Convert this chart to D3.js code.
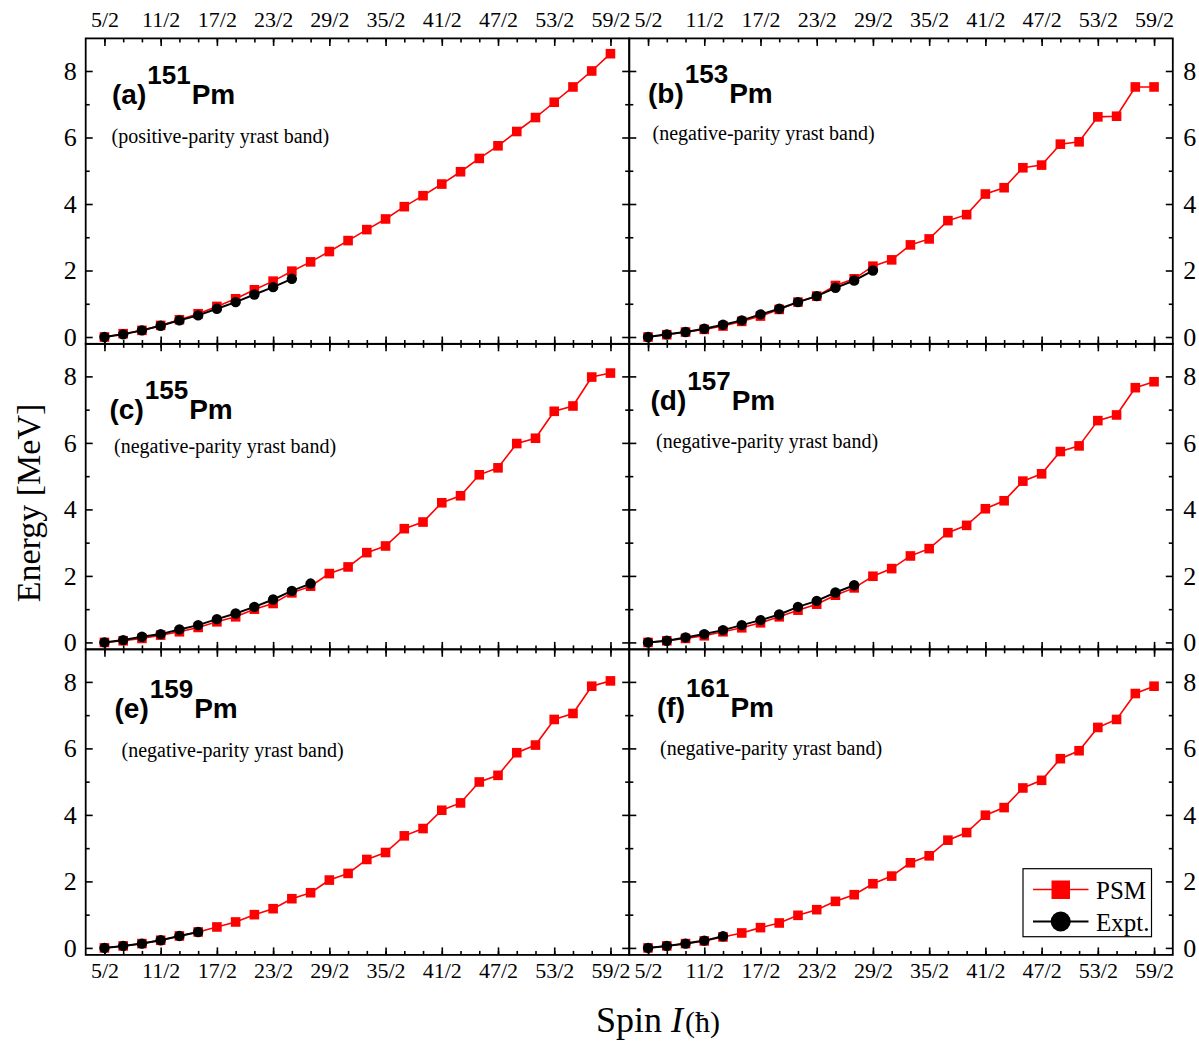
<!DOCTYPE html>
<html>
<head>
<meta charset="utf-8">
<script src="https://cdn.jsdelivr.net/npm/d3@7"></script>
<style>
  body { margin: 0; background: #fff; }
  text { font-family: "Liberation Serif", "Times New Roman", serif; }
</style>
</head>
<body>
<div id="chart"></div>
<script>
// spin values I = 5/2 ... 59/2
var spins = [2.5, 3.5, 4.5, 5.5, 6.5, 7.5, 8.5, 9.5, 10.5, 11.5, 12.5, 13.5, 14.5, 15.5,
             16.5, 17.5, 18.5, 19.5, 20.5, 21.5, 22.5, 23.5, 24.5, 25.5, 26.5, 27.5, 28.5, 29.5];
var majorSpins = [2.5, 5.5, 8.5, 11.5, 14.5, 17.5, 20.5, 23.5, 26.5, 29.5];
var spinLabels = ["5/2", "11/2", "17/2", "23/2", "29/2", "35/2", "41/2", "47/2", "53/2", "59/2"];
var energyTicks = [0, 2, 4, 6, 8];
var energyMinor = [1, 3, 5, 7];

var nuclei = ["151", "153", "155", "157", "159", "161"];
var panelTags = ["(a)", "(b)", "(c)", "(d)", "(e)", "(f)"];
var bands = ["(positive-parity yrast band)", "(negative-parity yrast band)", "(negative-parity yrast band)",
             "(negative-parity yrast band)", "(negative-parity yrast band)", "(negative-parity yrast band)"];

// Energy [MeV]
var psm151 = [0, 0.10, 0.20, 0.35, 0.52, 0.70, 0.92, 1.15, 1.42, 1.68, 1.98, 2.26, 2.57, 2.90,
              3.23, 3.55, 3.92, 4.25, 4.60, 4.97, 5.37, 5.75, 6.18, 6.60, 7.06, 7.52, 8.00, 8.52];
var expt151 = [0, 0.08, 0.20, 0.34, 0.50, 0.65, 0.85, 1.05, 1.28, 1.50, 1.75];

var psm153 = [0, 0.07, 0.15, 0.23, 0.33, 0.47, 0.63, 0.83, 1.05, 1.23, 1.55, 1.75, 2.13, 2.32,
              2.77, 2.95, 3.50, 3.68, 4.30, 4.49, 5.09, 5.17, 5.80, 5.87, 6.62, 6.64, 7.52, 7.52];
var expt153 = [0, 0.08, 0.15, 0.25, 0.37, 0.50, 0.68, 0.85, 1.05, 1.23, 1.48, 1.70, 2.00];

var psm155 = [0, 0.05, 0.12, 0.22, 0.32, 0.45, 0.62, 0.77, 1.00, 1.17, 1.49, 1.69, 2.07, 2.27,
              2.70, 2.90, 3.42, 3.62, 4.20, 4.41, 5.04, 5.25, 5.98, 6.14, 6.95, 7.11, 7.98, 8.10];
var expt155 = [0, 0.07, 0.17, 0.25, 0.39, 0.52, 0.70, 0.87, 1.07, 1.29, 1.55, 1.77];

var psm157 = [0, 0.05, 0.12, 0.20, 0.32, 0.44, 0.59, 0.77, 0.97, 1.15, 1.42, 1.64, 1.99, 2.22,
              2.60, 2.82, 3.30, 3.52, 4.02, 4.26, 4.85, 5.07, 5.74, 5.91, 6.67, 6.84, 7.66, 7.84];
var expt157 = [0, 0.05, 0.15, 0.25, 0.37, 0.52, 0.67, 0.84, 1.07, 1.25, 1.50, 1.72];

var psm159 = [0, 0.06, 0.13, 0.23, 0.36, 0.48, 0.63, 0.78, 1.00, 1.18, 1.48, 1.66, 2.04, 2.24,
              2.66, 2.87, 3.37, 3.59, 4.14, 4.36, 4.99, 5.19, 5.87, 6.10, 6.87, 7.05, 7.87, 8.03];
var expt159 = [0, 0.06, 0.13, 0.23, 0.36, 0.48];

var psm161 = [0, 0.06, 0.13, 0.21, 0.33, 0.45, 0.61, 0.75, 0.98, 1.15, 1.40, 1.60, 1.93, 2.16,
              2.56, 2.77, 3.24, 3.47, 3.99, 4.22, 4.81, 5.04, 5.69, 5.93, 6.63, 6.87, 7.65, 7.87];
var expt161 = [0, 0.06, 0.13, 0.22, 0.35];

var psmSets = [psm151, psm153, psm155, psm157, psm159, psm161];
var exptSets = [expt151, expt153, expt155, expt157, expt159, expt161];

var W = 1199, H = 1045;
var colX = [85.7, 629.3];
var rowY = [38.4, 343.8, 649.3];
var pw = 543.5, ph = 305.6;

// where the panel tag / band text sit (absolute px)
var tagPos = [[112, 104], [648, 103], [109.5, 419], [650.5, 410], [114.5, 718], [657, 716.5]];
var bandPos = [[111.5, 142.5], [652.5, 140], [114, 453], [656, 448], [121.5, 756.5], [660, 755]];

var svg = d3.select("#chart").append("svg")
    .attr("width", W)
    .attr("height", H)
    .style("background", "#fff");

var x = d3.scaleLinear().domain([1.5, 30.5]).range([0, pw]);
var y = d3.scaleLinear().domain([-0.21, 8.98]).range([ph, 0]);

var line = d3.line()
    .x(function(d, i) { return x(spins[i]); })
    .y(function(d) { return y(d); });

function addAxis(g, axis) {
  g.call(axis);
  g.select(".domain").remove();
  g.selectAll(".tick line").attr("stroke", "#000").attr("stroke-width", 1.6);
  g.selectAll(".tick text").attr("fill", "#000").attr("font-family", "Liberation Serif, serif");
}

for (var p = 0; p < 6; p++) {
  var col = p % 2, row = Math.floor(p / 2);
  var g = svg.append("g").attr("transform", "translate(" + colX[col] + "," + rowY[row] + ")");

  // x ticks, top and bottom
  var xTop = g.append("g");
  addAxis(xTop.append("g"), d3.axisTop(x).tickValues(spins).tickSize(-4).tickFormat(""));
  var topMajor = d3.axisTop(x).tickValues(majorSpins).tickSize(-7.5).tickPadding(11.5)
      .tickFormat(function(d, i) { return row === 0 ? spinLabels[i] : ""; });
  var tm = xTop.append("g");
  addAxis(tm, topMajor);
  tm.attr("font-size", 22);

  var xBot = g.append("g").attr("transform", "translate(0," + ph + ")");
  addAxis(xBot.append("g"), d3.axisBottom(x).tickValues(spins).tickSize(-4).tickFormat(""));
  var botMajor = d3.axisBottom(x).tickValues(majorSpins).tickSize(-7.5).tickPadding(7)
      .tickFormat(function(d, i) { return row === 2 ? spinLabels[i] : ""; });
  var bm = xBot.append("g");
  addAxis(bm, botMajor);
  bm.attr("font-size", 22);

  // y ticks, left and right
  var yl = g.append("g");
  addAxis(yl.append("g"), d3.axisLeft(y).tickValues(energyMinor).tickSize(-4).tickFormat(""));
  var ylm = yl.append("g");
  addAxis(ylm, d3.axisLeft(y).tickValues(energyTicks).tickSize(-7).tickPadding(9)
      .tickFormat(function(d) { return col === 0 ? d : ""; }));
  ylm.attr("font-size", 26);

  var yr = g.append("g").attr("transform", "translate(" + pw + ",0)");
  addAxis(yr.append("g"), d3.axisRight(y).tickValues(energyMinor).tickSize(-4).tickFormat(""));
  var yrm = yr.append("g");
  addAxis(yrm, d3.axisRight(y).tickValues(energyTicks).tickSize(-7).tickPadding(10.5)
      .tickFormat(function(d) { return col === 1 ? d : ""; }));
  yrm.attr("font-size", 26);

  g.append("rect")
    .attr("width", pw).attr("height", ph)
    .attr("fill", "none").attr("stroke", "#000").attr("stroke-width", 1.8);

  // PSM
  var psm = psmSets[p];
  g.append("path").datum(psm)
    .attr("d", line).attr("fill", "none")
    .attr("stroke", "#ff0000").attr("stroke-width", 1.6);
  g.selectAll(".sq").data(psm).enter().append("rect")
    .attr("class", "sq")
    .attr("x", function(d, i) { return x(spins[i]) - 4.8; })
    .attr("y", function(d) { return y(d) - 4.8; })
    .attr("width", 9.6).attr("height", 9.6)
    .attr("fill", "#ff0000");

  // Expt
  var ex = exptSets[p];
  g.append("path").datum(ex)
    .attr("d", line).attr("fill", "none")
    .attr("stroke", "#000").attr("stroke-width", 2);
  g.selectAll(".ci").data(ex).enter().append("circle")
    .attr("class", "ci")
    .attr("cx", function(d, i) { return x(spins[i]); })
    .attr("cy", function(d) { return y(d); })
    .attr("r", 5.2)
    .attr("fill", "#000");
}

// panel tags like (a)^151 Pm
for (var q = 0; q < 6; q++) {
  var t = svg.append("text")
    .attr("x", tagPos[q][0]).attr("y", tagPos[q][1])
    .style("font-family", "Liberation Sans, Arial, sans-serif")
    .attr("font-weight", "bold")
    .attr("font-size", 28);
  t.append("tspan").text(panelTags[q]);
  t.append("tspan").attr("font-size", 26).attr("dy", -20).attr("dx", 1).text(nuclei[q]);
  t.append("tspan").attr("dy", 20).attr("dx", 1).text("Pm");

  svg.append("text")
    .attr("x", bandPos[q][0]).attr("y", bandPos[q][1])
    .attr("font-size", 20)
    .text(bands[q]);
}

// legend
var lg = svg.append("g");
lg.append("rect")
  .attr("x", 1023).attr("y", 868.7).attr("width", 128.5).attr("height", 68)
  .attr("fill", "#fff").attr("stroke", "#000").attr("stroke-width", 1.2);
lg.append("line").attr("x1", 1033).attr("x2", 1088.5).attr("y1", 889.5).attr("y2", 889.5)
  .attr("stroke", "#ff0000").attr("stroke-width", 1.6);
lg.append("rect").attr("x", 1051.5).attr("y", 880.5).attr("width", 18.5).attr("height", 18.5)
  .attr("fill", "#ff0000");
lg.append("text").attr("x", 1096).attr("y", 898.5).attr("font-size", 25).text("PSM");
lg.append("line").attr("x1", 1033).attr("x2", 1088.5).attr("y1", 921.5).attr("y2", 921.5)
  .attr("stroke", "#000").attr("stroke-width", 2);
lg.append("circle").attr("cx", 1060.7).attr("cy", 921.5).attr("r", 10).attr("fill", "#000");
lg.append("text").attr("x", 1096).attr("y", 930.5).attr("font-size", 25).text("Expt.");

// axis titles
svg.append("text")
  .attr("transform", "translate(40,503) rotate(-90)")
  .attr("text-anchor", "middle")
  .attr("font-size", 34)
  .text("Energy [MeV]");

var st = svg.append("text")
  .attr("x", 596).attr("y", 1032)
  .attr("font-size", 36);
st.append("tspan").text("Spin ");
st.append("tspan").attr("font-style", "italic").text("I");
st.append("tspan").attr("font-size", 30).attr("dx", 2).text("(ħ)");
</script>
</body>
</html>
